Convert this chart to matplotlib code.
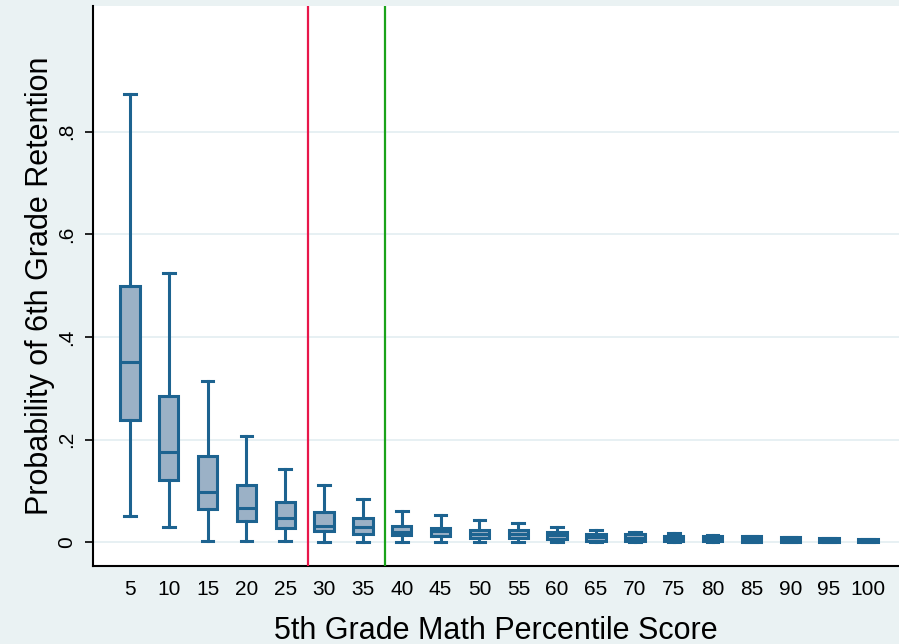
import numpy as np
import matplotlib
matplotlib.use("Agg")
import matplotlib.pyplot as plt

plt.rcParams['font.family'] = ['Liberation Sans', 'DejaVu Sans']

# 5th grade math percentile groups
scores = [5, 10, 15, 20, 25, 30, 35, 40, 45, 50, 55, 60, 65, 70, 75, 80, 85, 90, 95, 100]

# box statistics
whislo = [0.052, 0.030, 0.003, 0.003, 0.002, 0.000, 0.000, 0.000, 0.000, 0.000,
          0.000, 0.000, 0.000, 0.000, 0.000, 0.000, 0.000, 0.000, 0.000, 0.000]
q1 = [0.238, 0.122, 0.066, 0.041, 0.028, 0.023, 0.017, 0.014, 0.013, 0.008,
      0.008, 0.007, 0.003, 0.002, 0.002, 0.002, 0.001, 0.001, 0.001, 0.001]
med = [0.352, 0.176, 0.099, 0.067, 0.048, 0.032, 0.030, 0.020, 0.022, 0.017,
       0.016, 0.014, 0.010, 0.009, 0.007, 0.007, 0.006, 0.005, 0.004, 0.004]
q3 = [0.500, 0.286, 0.168, 0.112, 0.079, 0.060, 0.048, 0.033, 0.029, 0.024,
      0.024, 0.020, 0.017, 0.016, 0.013, 0.013, 0.012, 0.010, 0.008, 0.007]
whishi = [0.873, 0.525, 0.315, 0.207, 0.143, 0.112, 0.085, 0.061, 0.054, 0.043,
          0.038, 0.031, 0.025, 0.020, 0.018, 0.014, 0.013, 0.010, 0.008, 0.007]

# cutoff lines (percentile score)
red_cut = 27.9
green_cut = 37.8

yticks = [0, 0.2, 0.4, 0.6, 0.8]
ytick_labels = ['0', '.2', '.4', '.6', '.8']

edge = '#1d6390'
fill = '#9bb1c6'
bg = '#eaf2f3'

fig = plt.figure(figsize=(8.99, 6.44), dpi=100, facecolor=bg)
ax = fig.add_axes([0.1034, 0.121, 0.8966, 0.8697])
ax.set_facecolor('white')

stats = []
for i in range(len(scores)):
    stats.append(dict(whislo=whislo[i], q1=q1[i], med=med[i], q3=q3[i],
                      whishi=whishi[i], fliers=[]))

pos = np.arange(1, len(scores) + 1)
ax.bxp(stats, positions=pos, widths=0.5, patch_artist=True, showfliers=False,
       boxprops=dict(facecolor=fill, edgecolor=edge, linewidth=2.2),
       medianprops=dict(color=edge, linewidth=2.2),
       whiskerprops=dict(color=edge, linewidth=2.2),
       capprops=dict(color=edge, linewidth=2.2),
       capwidths=0.3, zorder=3)

# vertical cutoff lines, converted from percentile to category position
ax.axvline(red_cut / 5.0, color='#e8174a', linewidth=1.6, zorder=4)
ax.axvline(green_cut / 5.0, color='#1aa31a', linewidth=1.6, zorder=4)

ax.set_xlim(0.05, 20.8)
ax.set_ylim(-0.046, 1.045)

ax.set_yticks(yticks)
ax.set_yticklabels(ytick_labels, rotation=90, va='center', fontsize=15)
ax.set_xticks(pos)
ax.set_xticklabels([str(s) for s in scores], fontsize=15)
ax.tick_params(axis='x', length=0, pad=10)
ax.tick_params(axis='y', length=6, width=1.2, pad=6)

ax.grid(axis='y', color='#e3eef1', linewidth=1.2, zorder=0)
ax.set_axisbelow(True)

for s in ['top', 'right']:
    ax.spines[s].set_visible(False)
ax.spines['left'].set_linewidth(1.5)
ax.spines['bottom'].set_linewidth(1.5)

ax.set_xlabel('5th Grade Math Percentile Score', fontsize=22, labelpad=12)
ax.set_ylabel('Probability of 6th Grade Retention', fontsize=22, labelpad=2)

fig.savefig('out.png', dpi=100, facecolor=bg)
